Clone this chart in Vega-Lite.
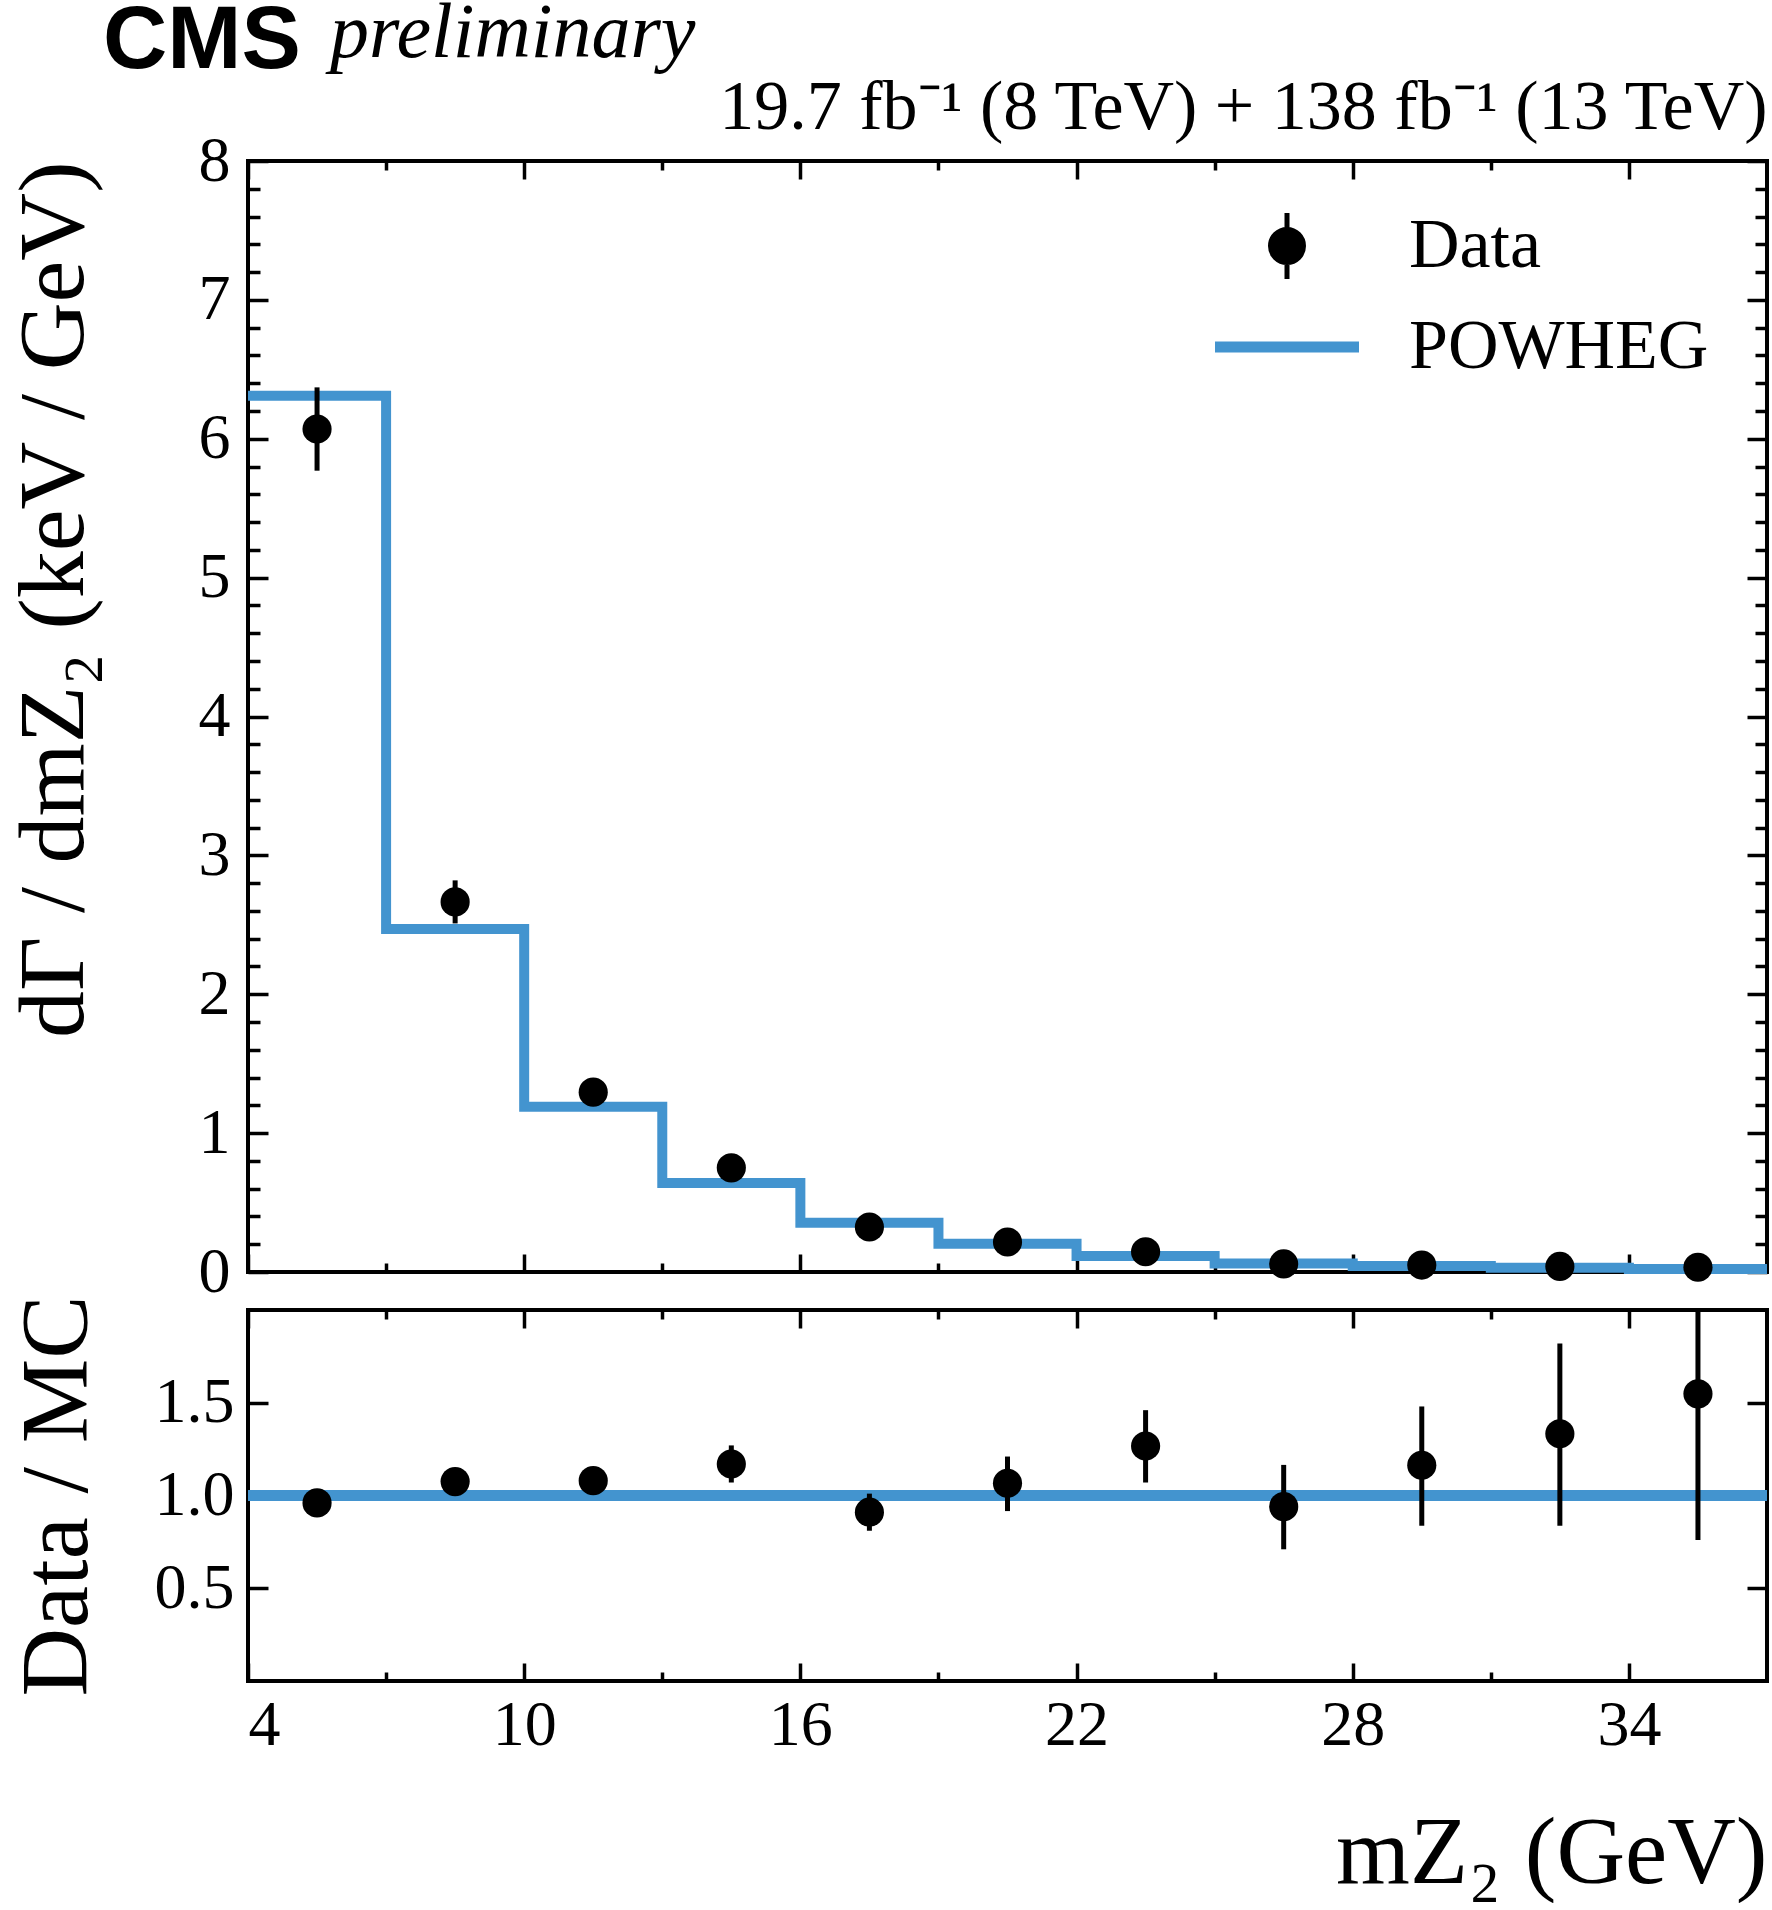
{
  "$schema": "https://vega.github.io/schema/vega-lite/v6.json",
  "background": "white",
  "padding": {"left": 4, "top": -7, "right": 4, "bottom": 0},
  "title": {"text": "CMS", "font": "Liberation Sans", "fontWeight": "bold", "fontSize": 89, "anchor": "start", "frame": "bounds", "dx": 98, "dy": 94, "offset": 0, "color": "black"},
  "bounds": "flush",
  "spacing": 38,
  "datasets": {
    "bins": [
      {"lo": 4, "mc": 6.31}, {"lo": 7, "mc": 2.47}, {"lo": 10, "mc": 1.19}, {"lo": 13, "mc": 0.64},
      {"lo": 16, "mc": 0.355}, {"lo": 19, "mc": 0.204}, {"lo": 22, "mc": 0.115}, {"lo": 25, "mc": 0.062},
      {"lo": 28, "mc": 0.043}, {"lo": 31, "mc": 0.030}, {"lo": 34, "mc": 0.022}, {"lo": 37, "mc": 0.022}
    ],
    "pts": [
      {"x": 5.5, "val": 6.07, "lo": 5.77, "hi": 6.37, "ratio": 0.96, "rlo": 0.93, "rhi": 0.99},
      {"x": 8.5, "val": 2.665, "lo": 2.51, "hi": 2.82, "ratio": 1.075, "rlo": 1.035, "rhi": 1.115},
      {"x": 11.5, "val": 1.295, "lo": 1.25, "hi": 1.34, "ratio": 1.08, "rlo": 1.04, "rhi": 1.12},
      {"x": 14.5, "val": 0.75, "lo": 0.69, "hi": 0.81, "ratio": 1.17, "rlo": 1.07, "rhi": 1.27},
      {"x": 17.5, "val": 0.324, "lo": 0.29, "hi": 0.36, "ratio": 0.91, "rlo": 0.81, "rhi": 1.01},
      {"x": 20.5, "val": 0.216, "lo": 0.186, "hi": 0.246, "ratio": 1.066, "rlo": 0.916, "rhi": 1.21},
      {"x": 23.5, "val": 0.146, "lo": 0.123, "hi": 0.169, "ratio": 1.267, "rlo": 1.07, "rhi": 1.46},
      {"x": 26.5, "val": 0.058, "lo": 0.044, "hi": 0.072, "ratio": 0.94, "rlo": 0.71, "rhi": 1.165},
      {"x": 29.5, "val": 0.050, "lo": 0.036, "hi": 0.064, "ratio": 1.163, "rlo": 0.837, "rhi": 1.48},
      {"x": 32.5, "val": 0.040, "lo": 0.025, "hi": 0.055, "ratio": 1.333, "rlo": 0.837, "rhi": 1.82},
      {"x": 35.5, "val": 0.034, "lo": 0.017, "hi": 0.051, "ratio": 1.548, "rlo": 0.76, "rhi": 2.34}
    ]
  },
  "vconcat": [
    {
      "width": 1519,
      "height": 1111,
      "title": {"text": "preliminary", "font": "Liberation Serif", "fontStyle": "italic", "fontSize": 78, "fontWeight": "normal", "anchor": "start", "frame": "group", "dx": 82, "offset": -1, "color": "black"},
      "layer": [
        {
          "data": {"name": "bins"},
          "mark": {"type": "line", "interpolate": "step-after", "strokeWidth": 10, "strokeJoin": "miter"},
          "encoding": {
            "x": {"field": "lo", "type": "quantitative", "scale": {"domain": [4, 37], "nice": false, "zero": false},
              "axis": {"orient": "bottom", "values": [4, 7, 10, 13, 16, 19, 22, 25, 28, 31, 34], "labels": false, "title": null,
                "tickSize": {"condition": {"test": "(datum.value - 4) % 6 === 0", "value": -18}, "value": -9}}},
            "y": {"field": "mc", "type": "quantitative", "scale": {"domain": [0, 8], "nice": false},
              "axis": {"orient": "left",
                "values": [0, 0.2, 0.4, 0.6, 0.8, 1, 1.2, 1.4, 1.6, 1.8, 2, 2.2, 2.4, 2.6, 2.8, 3, 3.2, 3.4, 3.6, 3.8, 4, 4.2, 4.4, 4.6, 4.8, 5, 5.2, 5.4, 5.6, 5.8, 6, 6.2, 6.4, 6.6, 6.8, 7, 7.2, 7.4, 7.6, 7.8, 8],
                "labelExpr": "datum.value % 1 === 0 ? format(datum.value, 'd') : ''",
                "tickSize": {"condition": {"test": "datum.value % 1 === 0", "value": -20}, "value": -12},
                "labelPadding": 38,
                "title": "dΓ / dmZ₂ (keV / GeV)", "titleAnchor": "end", "titleFontSize": 94, "titlePadding": 96}},
            "color": {"datum": "POWHEG", "type": "nominal",
              "scale": {"domain": ["Data", "POWHEG"], "range": ["black", "#4394cf"]},
              "legend": {"orient": "none", "legendX": 1004, "legendY": 50, "title": null, "padding": 0,
                "labelFont": "Liberation Serif", "labelFontSize": 70, "labelColor": "black", "labelOffset": 87, "labelLimit": 0,
                "symbolSize": 900, "rowPadding": 23,
                "encode": {"symbols": {"update": {
                  "shape": {"signal": "datum.value === 'Data' ? 'M-1.1,0A1.1,1.1,0,1,1,1.1,0A1.1,1.1,0,1,1,-1.1,0ZM0,-2.2L0,2.2' : 'M-4.8,0L4.8,0'"},
                  "fill": {"signal": "datum.value === 'Data' ? 'black' : 'transparent'"},
                  "stroke": {"signal": "datum.value === 'Data' ? 'black' : '#4394cf'"},
                  "strokeWidth": {"signal": "datum.value === 'Data' ? 5 : 11"},
                  "opacity": {"value": 1}
                }}}}}
          }
        },
        {
          "data": {"name": "pts"},
          "mark": {"type": "rule", "strokeWidth": 5, "color": "black"},
          "encoding": {
            "x": {"field": "x", "type": "quantitative", "scale": {"domain": [4, 37], "nice": false, "zero": false},
              "axis": {"orient": "top", "values": [4, 7, 10, 13, 16, 19, 22, 25, 28, 31, 34], "labels": false,
                "tickSize": {"condition": {"test": "(datum.value - 4) % 6 === 0", "value": -18}, "value": -9},
                "title": "19.7 fb⁻¹ (8 TeV) + 138 fb⁻¹ (13 TeV)", "titleAnchor": "end", "titleFontSize": 70, "titlePadding": 16}},
            "y": {"field": "lo", "type": "quantitative", "scale": {"domain": [0, 8], "nice": false},
              "axis": {"orient": "right",
                "values": [0, 0.2, 0.4, 0.6, 0.8, 1, 1.2, 1.4, 1.6, 1.8, 2, 2.2, 2.4, 2.6, 2.8, 3, 3.2, 3.4, 3.6, 3.8, 4, 4.2, 4.4, 4.6, 4.8, 5, 5.2, 5.4, 5.6, 5.8, 6, 6.2, 6.4, 6.6, 6.8, 7, 7.2, 7.4, 7.6, 7.8, 8],
                "labels": false, "title": null,
                "tickSize": {"condition": {"test": "datum.value % 1 === 0", "value": -20}, "value": -12}}},
            "y2": {"field": "hi"}
          }
        },
        {
          "data": {"name": "pts"},
          "mark": {"type": "point", "filled": true, "shape": "circle", "size": 850, "opacity": 1},
          "encoding": {
            "x": {"field": "x", "type": "quantitative", "axis": null},
            "y": {"field": "val", "type": "quantitative", "axis": null},
            "color": {"datum": "Data", "type": "nominal"}
          }
        }
      ],
      "resolve": {"axis": {"x": "independent", "y": "independent"}}
    },
    {
      "width": 1519,
      "height": 371,
      "layer": [
        {
          "data": {"values": [{"ref": 1}]},
          "mark": {"type": "rule", "strokeWidth": 11, "color": "#4394cf"},
          "encoding": {"y": {"field": "ref", "type": "quantitative", "scale": {"domain": [0, 2], "nice": false}, "axis": null}}
        },
        {
          "data": {"name": "pts"},
          "mark": {"type": "rule", "strokeWidth": 5, "color": "black", "clip": true},
          "encoding": {
            "x": {"field": "x", "type": "quantitative", "scale": {"domain": [4, 37], "nice": false, "zero": false},
              "axis": {"orient": "bottom", "values": [4, 7, 10, 13, 16, 19, 22, 25, 28, 31, 34],
                "labelExpr": "(datum.value - 4) % 6 === 0 ? format(datum.value, 'd') : ''",
                "tickSize": {"condition": {"test": "(datum.value - 4) % 6 === 0", "value": -18}, "value": -9},
                "labelPadding": 30,
                "title": "mZ₂ (GeV)", "titleAnchor": "end", "titleFontSize": 95, "titlePadding": 50}},
            "y": {"field": "rlo", "type": "quantitative", "scale": {"domain": [0, 2], "nice": false},
              "axis": {"orient": "left", "values": [0.5, 1, 1.5], "format": ".1f", "tickSize": -20, "labelPadding": 34,
                "title": "Data / MC", "titleFontSize": 95, "titlePadding": 48}},
            "y2": {"field": "rhi"}
          }
        },
        {
          "data": {"name": "pts"},
          "mark": {"type": "point", "filled": true, "shape": "circle", "size": 850, "opacity": 1, "color": "black"},
          "encoding": {
            "x": {"field": "x", "type": "quantitative",
              "axis": {"orient": "top", "values": [4, 7, 10, 13, 16, 19, 22, 25, 28, 31, 34], "labels": false, "title": null,
                "tickSize": {"condition": {"test": "(datum.value - 4) % 6 === 0", "value": -18}, "value": -9}}},
            "y": {"field": "ratio", "type": "quantitative",
              "axis": {"orient": "right", "values": [0.5, 1, 1.5], "labels": false, "title": null, "tickSize": -20}}
          }
        }
      ],
      "resolve": {"axis": {"x": "independent", "y": "independent"}}
    }
  ],
  "config": {
    "font": "Liberation Serif",
    "view": {"stroke": "black", "strokeWidth": 4},
    "axis": {"domain": false, "grid": false, "labelFont": "Liberation Serif", "labelFontSize": 64, "labelColor": "black",
      "tickColor": "black", "tickWidth": 3.5, "titleFont": "Liberation Serif", "titleFontWeight": "normal", "titleColor": "black"}
  }
}
